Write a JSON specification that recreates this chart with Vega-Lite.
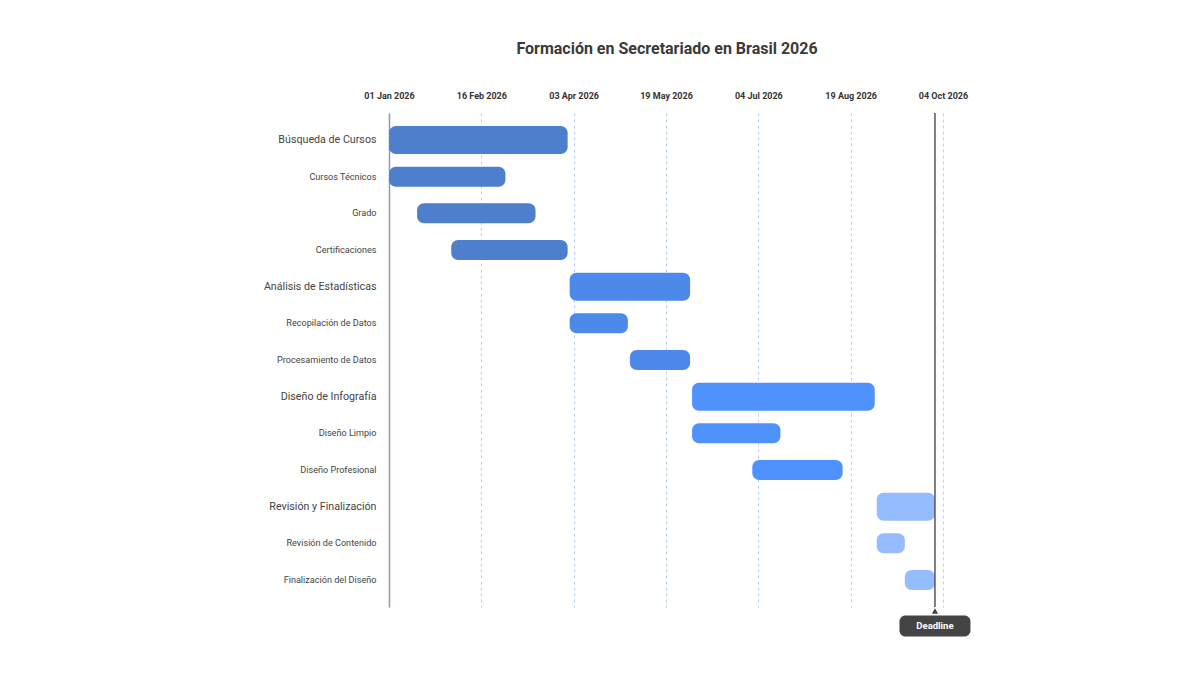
{
  "$schema": "https://vega.github.io/schema/vega-lite/v6.json",
  "width": 556,
  "height": 494,
  "autosize": {"type": "none"},
  "padding": {"left": 389, "top": 113, "right": 256, "bottom": 68},
  "background": "white",
  "config": {"view": {"stroke": null}, "font": "Roboto"},
  "title": {
    "text": "Formación en Secretariado en Brasil 2026",
    "fontSize": 16,
    "fontWeight": "bold",
    "color": "#3a3a3a",
    "font": "Roboto",
    "anchor": "middle",
    "offset": 34
  },
  "datasets": {
    "tasks": [
      {"task": "Búsqueda de Cursos", "start": "2026-01-01", "end": "2026-03-31", "group": "Búsqueda", "level": "parent"},
      {"task": "Cursos Técnicos", "start": "2026-01-01", "end": "2026-02-28", "group": "Búsqueda", "level": "child"},
      {"task": "Grado", "start": "2026-01-15", "end": "2026-03-15", "group": "Búsqueda", "level": "child"},
      {"task": "Certificaciones", "start": "2026-02-01", "end": "2026-03-31", "group": "Búsqueda", "level": "child"},
      {"task": "Análisis de Estadísticas", "start": "2026-04-01", "end": "2026-05-31", "group": "Análisis", "level": "parent"},
      {"task": "Recopilación de Datos", "start": "2026-04-01", "end": "2026-04-30", "group": "Análisis", "level": "child"},
      {"task": "Procesamiento de Datos", "start": "2026-05-01", "end": "2026-05-31", "group": "Análisis", "level": "child"},
      {"task": "Diseño de Infografía", "start": "2026-06-01", "end": "2026-08-31", "group": "Diseño", "level": "parent"},
      {"task": "Diseño Limpio", "start": "2026-06-01", "end": "2026-07-15", "group": "Diseño", "level": "child"},
      {"task": "Diseño Profesional", "start": "2026-07-01", "end": "2026-08-15", "group": "Diseño", "level": "child"},
      {"task": "Revisión y Finalización", "start": "2026-09-01", "end": "2026-09-30", "group": "Revisión", "level": "parent"},
      {"task": "Revisión de Contenido", "start": "2026-09-01", "end": "2026-09-15", "group": "Revisión", "level": "child"},
      {"task": "Finalización del Diseño", "start": "2026-09-15", "end": "2026-09-30", "group": "Revisión", "level": "child"}
    ],
    "deadline": [
      {"date": "2026-09-30", "label": "Deadline", "row": "Finalización del Diseño"}
    ]
  },
  "layer": [
    {
      "data": {"name": "tasks"},
      "transform": [{"filter": "datum.end != '2026-09-30'"}],
      "mark": {"type": "bar", "cornerRadius": 7},
      "encoding": {
        "y": {
          "field": "task",
          "type": "nominal",
          "sort": null,
          "scale": {
            "domain": ["Búsqueda de Cursos", "Cursos Técnicos", "Grado", "Certificaciones", "Análisis de Estadísticas", "Recopilación de Datos", "Procesamiento de Datos", "Diseño de Infografía", "Diseño Limpio", "Diseño Profesional", "Revisión y Finalización", "Revisión de Contenido", "Finalización del Diseño"],
            "paddingInner": 0,
            "paddingOuter": 0.236
          },
          "axis": {
            "title": null,
            "ticks": false,
            "grid": false,
            "domain": true,
            "domainColor": "#8d9bb0",
            "domainWidth": 1.5,
            "labelPadding": 13,
            "labelColor": "#444444",
            "labelFont": "Roboto",
            "labelLimit": 250,
            "labelFontSize": {
              "condition": {
                "test": "indexof(['Búsqueda de Cursos','Análisis de Estadísticas','Diseño de Infografía','Revisión y Finalización'], datum.value) >= 0",
                "value": 10.7
              },
              "value": 9.1
            }
          }
        },
        "x": {
          "field": "start",
          "type": "temporal",
          "scale": {
            "type": "utc",
            "domain": [
              {"year": 2026, "month": 1, "date": 1, "utc": true},
              {"year": 2026, "month": 10, "date": 5, "utc": true}
            ]
          },
          "axis": {
            "orient": "top",
            "title": null,
            "values": [
              {"year": 2026, "month": 1, "date": 1, "utc": true},
              {"year": 2026, "month": 2, "date": 16, "utc": true},
              {"year": 2026, "month": 4, "date": 3, "utc": true},
              {"year": 2026, "month": 5, "date": 19, "utc": true},
              {"year": 2026, "month": 7, "date": 4, "utc": true},
              {"year": 2026, "month": 8, "date": 19, "utc": true},
              {"year": 2026, "month": 10, "date": 4, "utc": true}
            ],
            "labelExpr": "utcFormat(datum.value, '%d %b %Y')",
            "labelFlush": false,
            "labelOverlap": false,
            "labelAlign": "center",
            "domain": false,
            "ticks": false,
            "grid": true,
            "gridDash": [3, 3],
            "gridColor": "#b9d0f0",
            "gridWidth": 1,
            "labelFontWeight": "bold",
            "labelFontSize": 9,
            "labelColor": "#333333",
            "labelPadding": 13,
            "labelFont": "Roboto"
          }
        },
        "x2": {"field": "end"},
        "color": {
          "field": "group",
          "type": "nominal",
          "scale": {
            "domain": ["Búsqueda", "Análisis", "Diseño", "Revisión"],
            "range": ["#4e7fcd", "#4c89e8", "#4f92fe", "#94bcff"]
          },
          "legend": null
        },
        "size": {
          "field": "level",
          "type": "nominal",
          "scale": {"domain": ["parent", "child"], "range": [28, 20]},
          "legend": null
        }
      }
    },
    {
      "data": {"name": "tasks"},
      "transform": [{"filter": "datum.end == '2026-09-30'"}],
      "mark": {"type": "bar", "cornerRadiusTopLeft": 7, "cornerRadiusBottomLeft": 7},
      "encoding": {
        "y": {"field": "task", "type": "nominal", "sort": null},
        "x": {"field": "start", "type": "temporal"},
        "x2": {"field": "end"},
        "color": {"field": "group", "type": "nominal", "legend": null},
        "size": {"field": "level", "type": "nominal", "legend": null}
      }
    },
    {
      "data": {"name": "deadline"},
      "mark": {"type": "rule", "color": "#555555", "strokeWidth": 1.5},
      "encoding": {
        "x": {"field": "date", "type": "temporal"}
      }
    },
    {
      "data": {"name": "deadline"},
      "mark": {"type": "point", "shape": "triangle-up", "filled": true, "color": "#444444", "size": 40, "opacity": 1, "yOffset": 31},
      "encoding": {
        "x": {"field": "date", "type": "temporal"},
        "y": {"field": "row", "type": "nominal"}
      }
    },
    {
      "data": {"name": "deadline"},
      "mark": {"type": "rect", "width": 71, "height": 21, "cornerRadius": 6, "color": "#444444", "yOffset": 46},
      "encoding": {
        "x": {"field": "date", "type": "temporal"},
        "y": {"field": "row", "type": "nominal"}
      }
    },
    {
      "data": {"name": "deadline"},
      "mark": {"type": "text", "color": "white", "fontSize": 9.5, "fontWeight": "bold", "font": "Roboto", "align": "center", "baseline": "middle", "yOffset": 46},
      "encoding": {
        "x": {"field": "date", "type": "temporal"},
        "y": {"field": "row", "type": "nominal"},
        "text": {"field": "label"}
      }
    }
  ]
}
